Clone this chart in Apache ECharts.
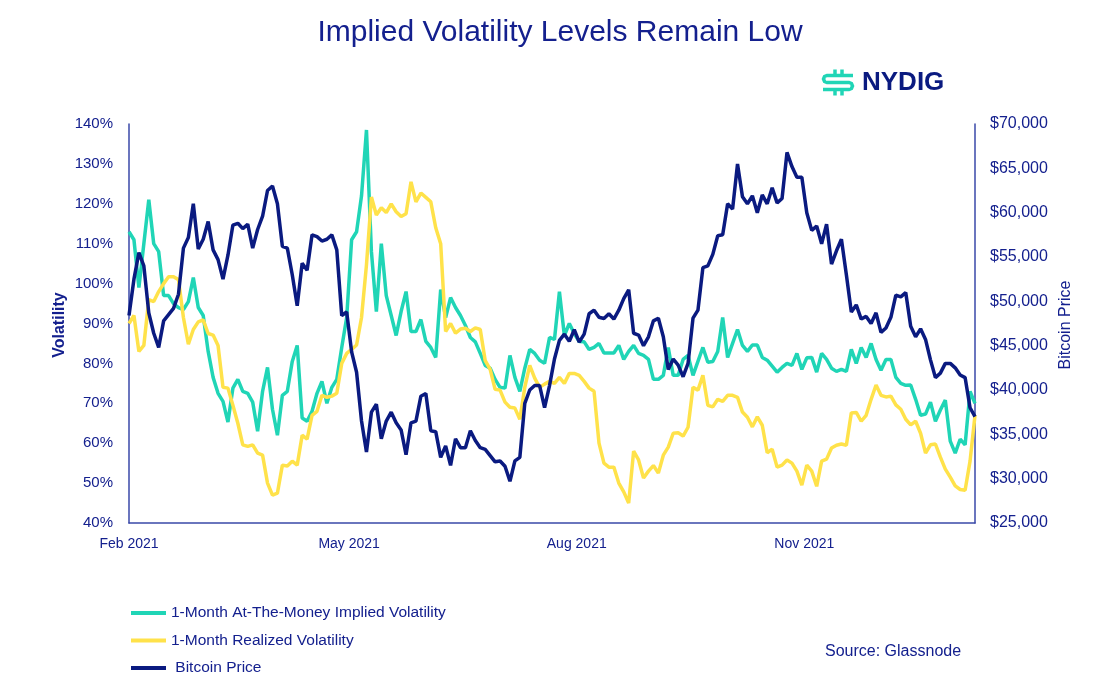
<!DOCTYPE html>
<html><head><meta charset="utf-8">
<script src="https://cdn.jsdelivr.net/npm/echarts@6/dist/echarts.min.js"></script>
<style>html,body{margin:0;padding:0;background:#fff}#chart{width:1120px;height:696px}</style>
</head><body><div id="chart"></div>
<script>
// ---- data (one value every 2 days from 1 Feb 2021) ----
const startDate = '2021-02-01';
const stepDays = 2;
const seriesNames = ['1-Month At-The-Money Implied Volatility', '1-Month Realized Volatility', 'Bitcoin Price'];
const xLabelDates = ['2021-02-01', '2021-05-01', '2021-08-01', '2021-11-01'];
const impliedVol = [
  113, 111, 99, 110, 121, 110, 108, 97, 97, 95,
  94, 93.5, 95.5, 101.5, 94, 92, 83, 76.5, 72.5, 70.5,
  65.3, 73.8, 76, 73, 72.5, 70.3, 63, 73, 79, 68.5,
  62, 72, 73, 80.5, 84.5, 66.3, 65.5, 68, 72.5, 75.5,
  70, 74, 76, 84, 91.5, 111, 113, 122, 138.5, 108,
  93, 110, 97, 92, 87, 93, 98, 88, 88, 91,
  85.5, 84, 81.5, 98.5, 91.5, 96.5, 94, 92, 89.5, 86.5,
  85.4, 82.5, 79.5, 78.8, 76, 74, 73.8, 82, 76.5, 73,
  78.8, 83.5, 82.5, 80.8, 80, 86.5, 86, 98, 87, 90,
  87.5, 85.5, 85.4, 83.5, 84, 85, 82.6, 82.6, 82.6, 84.5,
  81, 83, 84.5, 82.5, 82, 81, 76, 76, 77, 84,
  77, 77, 81, 82, 77, 80.5, 84, 80.3, 80.5, 83,
  91.5, 81.5, 85, 88.5, 84.5, 83, 84.6, 84.6, 81.5, 80.8,
  79.3, 77.8, 79, 80, 79.5, 82.5, 78.5, 81.4, 81.5, 77.8,
  82.5, 81, 78.8, 78, 78.5, 78, 83.5, 80, 84, 81.5,
  85, 81, 78.3, 81, 81, 76.5, 75, 74.5, 74.6, 71,
  67, 67.3, 70.3, 65.5, 68.3, 70.8, 60.5, 57.5, 61, 59.6,
  73, 70
];
const realizedVol = [
  90, 92, 83, 84.5, 96, 95.5, 98, 100, 101.7, 101.7,
  101, 91.5, 84.8, 88.5, 90.4, 90.9, 87.5, 87.1, 84.5, 74,
  73.8, 69.5, 65, 59.6, 59.2, 59.6, 57.5, 57, 50, 47,
  47.5, 54.5, 54.3, 55.5, 54.5, 62, 61, 67, 68, 72,
  71.5, 71.8, 72.5, 80, 82.5, 83.5, 84.6, 91.5, 104.7, 121.7,
  117.2, 119, 117.8, 120, 118, 116.8, 117.5, 125.5, 120.5, 122.7,
  121.6, 120.5, 114, 110, 88, 90, 87.6, 88.6, 88.8, 88,
  88.9, 88.5, 80.7, 78.5, 73.5, 73.3, 70.3, 69, 68.8, 66,
  74, 79.5, 76.3, 74, 74.8, 75.5, 75, 76.5, 75, 77.5,
  77.5, 77, 75.5, 73.8, 73, 60, 55, 54, 54, 50,
  47.8, 45, 58, 55.8, 51.3, 53, 54.4, 52.5, 57, 59,
  62.5, 62.6, 61.8, 64, 74, 73.3, 77, 69.5, 69.1, 71,
  70.5, 72, 72, 71.5, 67.8, 66.5, 64.1, 66.6, 64.5, 57.6,
  58.5, 54, 54.5, 55.8, 55, 53, 49.5, 54.5, 53, 49.2,
  55.5, 56, 58.8, 59.5, 59.8, 59.5, 67.6, 67.7, 65.5, 67,
  71, 74.6, 72, 71.6, 71.8, 69.6, 68.5, 66, 64.6, 65.5,
  62.5, 57.5, 59.6, 59.8, 56.5, 53.5, 51.5, 49.3, 48.4, 48.2,
  55.5, 67
];
const btcPrice = [
  48400, 52500, 55500, 54000, 48700, 46400, 44800, 47800, 48500, 49200,
  50800, 56000, 57200, 61000, 55900, 57000, 59000, 55800, 54700, 52500,
  55200, 58600, 58800, 58200, 58700, 56000, 58100, 59600, 62500, 63000,
  61000, 56200, 56000, 53000, 49500, 54300, 53500, 57500, 57300, 56800,
  57000, 57500, 55800, 48400, 48800, 44300, 42000, 36500, 33000, 37500,
  38400, 34500, 36500, 37500, 36300, 35500, 32700, 36300, 36500, 39300,
  39600, 35400, 35300, 32400, 33700, 31500, 34500, 33500, 33500, 35400,
  34300, 33500, 33300, 32600, 31900, 32000, 31400, 29700, 32000, 32400,
  38500, 40000, 40500, 40500, 38000, 40500, 43500, 45600, 46300, 45500,
  46800, 45400, 46300, 48600, 49000, 48200, 48070, 48600, 48000, 49000,
  50300, 51300, 46400, 46200, 45000, 46000, 47800, 48100, 46000, 42300,
  43500, 42800, 41500, 43000, 48100, 49000, 53800, 54000, 55300, 57400,
  57500, 61000, 60400, 65500, 61800, 61000, 61900, 60000, 62000, 61000,
  62800, 61100, 61600, 66800, 65200, 64000, 64000, 60000, 58000, 58500,
  56500, 58700, 54200, 55700, 57000, 53000, 48800, 49600, 48000, 48300,
  47500, 48700, 46500, 47000, 48200, 50700, 50500, 51000, 47200, 46000,
  46900, 45700, 43400, 41400, 41900, 43000, 43000, 42500, 41700, 41400,
  38000, 37000
];
const volAxis = { min: 40, max: 140, interval: 10 };
const priceAxis = { min: 25000, max: 70000, interval: 5000 };

// ---- build: x is the day offset from startDate ----
const DAY = 86400000;
const t0 = Date.parse(startDate + 'T00:00:00Z');
const dayOf = s => Math.round((Date.parse(s + 'T00:00:00Z') - t0) / DAY);
const days = impliedVol.map((_, i) => i * stepDays);
const pair = arr => arr.map((v, i) => [days[i], v]);
const labelDays = xLabelDates.map(dayOf);
const MONTHS = ['Jan','Feb','Mar','Apr','May','Jun','Jul','Aug','Sep','Oct','Nov','Dec'];
const fmtDay = v => { const d = new Date(t0 + Math.round(v) * DAY); return MONTHS[d.getUTCMonth()] + ' ' + d.getUTCFullYear(); };

const TEXT = '#14208e';
const AXIS = '#3a49a8';
const TEAL = '#20d5b6';
const YELLOW = '#ffe24a';
const NAVY = '#0a1a80';
const FONT = '"Liberation Sans", Arial, sans-serif';
const LW = 3.5;

const chart = echarts.init(document.getElementById('chart'), null, { renderer: 'canvas' });
chart.setOption({
  backgroundColor: '#ffffff',
  animation: false,
  textStyle: { fontFamily: FONT },
  title: {
    text: 'Implied Volatility Levels Remain Low',
    left: 'center', top: 13,
    textStyle: { fontSize: 30, fontWeight: 'normal', color: TEXT, fontFamily: FONT }
  },
  grid: { left: 129, right: 145, top: 124, bottom: 173, containLabel: false },
  legend: {
    orient: 'vertical', left: 131, top: 605, padding: 0,
    itemWidth: 35, itemHeight: 4, itemGap: 11.5, icon: 'rect',
    textStyle: { fontSize: 15.5, color: TEXT, fontFamily: FONT },
    formatter: name => name === seriesNames[2] ? ' ' + name : name,
    data: seriesNames
  },
  xAxis: {
    type: 'value',
    min: days[0], max: days[days.length - 1],
    axisLine: { show: true, lineStyle: { color: AXIS, width: 1.5 } },
    axisTick: { show: false },
    splitLine: { show: false },
    axisLabel: {
      customValues: labelDays,
      margin: 14, fontSize: 14, color: TEXT, fontFamily: FONT,
      formatter: fmtDay
    }
  },
  yAxis: [
    {
      type: 'value', position: 'left',
      min: volAxis.min, max: volAxis.max, interval: volAxis.interval,
      axisLine: { show: true, lineStyle: { color: AXIS, width: 1.5 } },
      axisTick: { show: false }, splitLine: { show: false },
      axisLabel: { formatter: '{value}%', margin: 16, fontSize: 15, color: TEXT, fontFamily: FONT }
    },
    {
      type: 'value', position: 'right',
      min: priceAxis.min, max: priceAxis.max, interval: priceAxis.interval,
      axisLine: { show: true, lineStyle: { color: AXIS, width: 1.5 } },
      axisTick: { show: false }, splitLine: { show: false },
      axisLabel: { formatter: v => '$' + v.toLocaleString('en-US'), margin: 15, fontSize: 16, color: TEXT, fontFamily: FONT }
    }
  ],
  series: [
    { name: seriesNames[0], type: 'line', yAxisIndex: 0, data: pair(impliedVol), showSymbol: false,
      lineStyle: { width: LW, color: TEAL }, itemStyle: { color: TEAL }, z: 2 },
    { name: seriesNames[1], type: 'line', yAxisIndex: 0, data: pair(realizedVol), showSymbol: false,
      lineStyle: { width: LW, color: YELLOW }, itemStyle: { color: YELLOW }, z: 3 },
    { name: seriesNames[2], type: 'line', yAxisIndex: 1, data: pair(btcPrice), showSymbol: false,
      lineStyle: { width: LW, color: NAVY }, itemStyle: { color: NAVY }, z: 4 }
  ],
  graphic: [
    { type: 'text', x: 60, y: 325, rotation: Math.PI / 2,
      style: { text: 'Volatility', fill: TEXT, font: '600 16px ' + FONT, align: 'center', verticalAlign: 'middle', textAlign: 'center', textVerticalAlign: 'middle' } },
    { type: 'text', x: 1066, y: 325, rotation: Math.PI / 2,
      style: { text: 'Bitcoin Price', fill: TEXT, font: '16px ' + FONT, align: 'center', verticalAlign: 'middle', textAlign: 'center', textVerticalAlign: 'middle' } },
    { type: 'text', x: 825, y: 652,
      style: { text: 'Source: Glassnode', fill: TEXT, font: '16px ' + FONT, align: 'left', verticalAlign: 'middle', textAlign: 'left', textVerticalAlign: 'middle' } },
    // NYDIG logo
    { type: 'polyline', shape: { points: [[853,75.5],[827,75.5],[824.5,76.5],[823.5,79],[824.5,81.5],[827,82.5],[849,82.5],[851.5,83.5],[852.5,86],[851.5,88.5],[849,89.5],[823,89.5]] },
      style: { stroke: TEAL, lineWidth: 3.5, fill: null } },
    { type: 'line', shape: { x1: 835, y1: 69.5, x2: 835, y2: 75.5 }, style: { stroke: TEAL, lineWidth: 3.5 } },
    { type: 'line', shape: { x1: 842, y1: 69.5, x2: 842, y2: 75.5 }, style: { stroke: TEAL, lineWidth: 3.5 } },
    { type: 'line', shape: { x1: 835, y1: 89.5, x2: 835, y2: 95.5 }, style: { stroke: TEAL, lineWidth: 3.5 } },
    { type: 'line', shape: { x1: 842, y1: 89.5, x2: 842, y2: 95.5 }, style: { stroke: TEAL, lineWidth: 3.5 } },
    { type: 'text', x: 862, y: 83,
      style: { text: 'NYDIG', fill: NAVY, font: 'bold 26px ' + FONT, align: 'left', verticalAlign: 'middle', textAlign: 'left', textVerticalAlign: 'middle' } }
  ]
});
</script>
</body></html>
